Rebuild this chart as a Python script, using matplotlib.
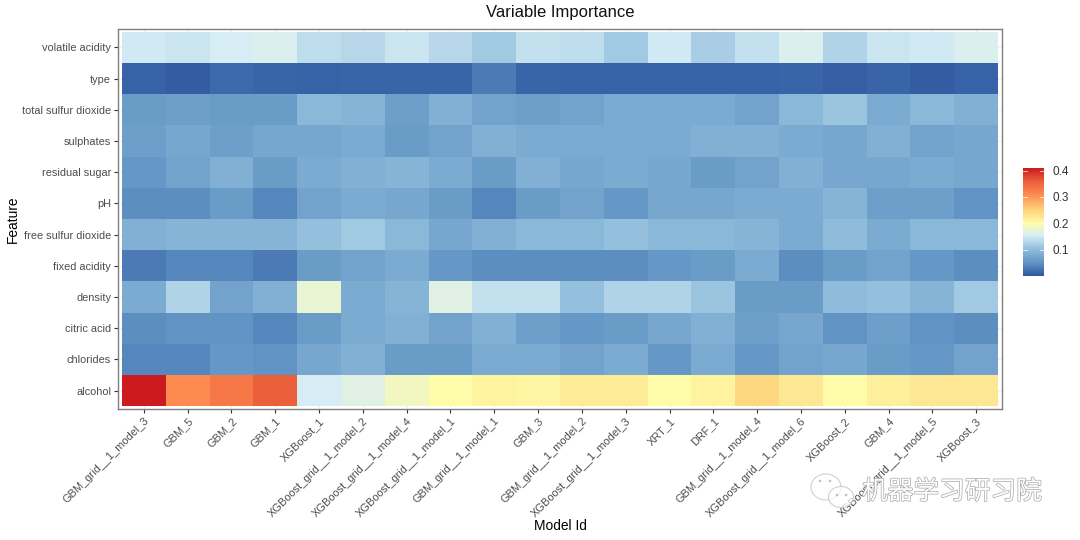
import numpy as np
import matplotlib
matplotlib.use("Agg")
import matplotlib.pyplot as plt
import matplotlib.patheffects as pe
from matplotlib.colors import LinearSegmentedColormap
from matplotlib.patches import Ellipse

plt.rcParams['font.family'] = ['Liberation Sans', 'Noto Sans CJK SC', 'DejaVu Sans']

models = ["GBM_grid__1_model_3", "GBM_5", "GBM_2", "GBM_1", "XGBoost_1",
          "XGBoost_grid__1_model_2", "XGBoost_grid__1_model_4", "XGBoost_grid__1_model_1",
          "GBM_grid__1_model_1", "GBM_3", "GBM_grid__1_model_2", "XGBoost_grid__1_model_3",
          "XRT_1", "DRF_1", "GBM_grid__1_model_4", "XGBoost_grid__1_model_6",
          "XGBoost_2", "GBM_4", "XGBoost_grid__1_model_5", "XGBoost_3"]

features = ["alcohol", "chlorides", "citric acid", "density", "fixed acidity",
            "free sulfur dioxide", "pH", "residual sugar", "sulphates",
            "total sulfur dioxide", "type", "volatile acidity"]

alcohol = [.41, .31, .33, .36, .155, .165, .185, .20, .21, .205, .22, .22, .20, .21, .245, .225, .20, .215, .225, .225]
chlorides = [.04, .04, .055, .05, .075, .085, .06, .06, .08, .08, .07, .08, .055, .08, .055, .07, .075, .06, .055, .07]
citric_acid = [.045, .05, .05, .04, .06, .08, .085, .07, .085, .065, .055, .06, .075, .085, .065, .075, .05, .065, .05, .045]
density = [.08, .125, .07, .085, .175, .08, .09, .165, .14, .14, .105, .125, .125, .11, .06, .06, .10, .105, .09, .115]
fixed_acidity = [.03, .04, .04, .03, .06, .07, .08, .055, .045, .045, .045, .045, .055, .06, .08, .045, .06, .07, .055, .045]
free_sulfur = [.085, .09, .09, .09, .105, .115, .095, .075, .085, .095, .095, .105, .095, .095, .09, .08, .10, .08, .095, .095]
ph = [.045, .045, .06, .04, .07, .08, .075, .06, .04, .06, .07, .055, .075, .075, .08, .08, .09, .065, .065, .05]
residual_sugar = [.055, .07, .085, .06, .08, .085, .09, .08, .06, .085, .075, .08, .075, .06, .07, .085, .075, .075, .08, .075]
sulphates = [.065, .075, .065, .075, .075, .08, .06, .07, .085, .08, .08, .08, .08, .085, .085, .08, .075, .085, .07, .075]
total_sulfur = [.06, .065, .06, .06, .095, .09, .065, .085, .07, .065, .07, .08, .08, .08, .07, .095, .11, .08, .095, .085]
type_ = [.01, .005, .015, .012, .01, .012, .012, .012, .03, .012, .01, .01, .01, .01, .01, .012, .008, .012, .005, .01]
volatile = [.15, .145, .155, .16, .135, .13, .145, .13, .115, .14, .135, .115, .15, .12, .14, .16, .125, .145, .15, .16]

rows = [alcohol, chlorides, citric_acid, density, fixed_acidity, free_sulfur, ph,
        residual_sugar, sulphates, total_sulfur, type_, volatile]
vals = np.array(rows)

vmin, vmax = 0.0, 0.41
stops = [(0.0, "#2E56A0"), (0.05, "#6194C4"), (0.1, "#8FBCDB"), (0.155, "#D7EEF5"),
         (0.2, "#FFFBA8"), (0.25, "#FDD47C"), (0.31, "#FD8A50"), (0.36, "#EC5F3B"), (0.41, "#CC1A1E")]
cmap = LinearSegmentedColormap.from_list("imp", [(v / vmax, c) for v, c in stops])

W, H = 1080, 540
fig = plt.figure(figsize=(W / 100, H / 100), dpi=100)
left, right, top, bottom = 118, 1002, 29, 409
ax = fig.add_axes([left / W, 1 - bottom / H, (right - left) / W, (bottom - top) / H])

x = np.arange(len(models))
y = np.arange(len(features))
ax.grid(True, color="#ebebeb", lw=0.6)
ax.set_axisbelow(True)
mesh = ax.pcolormesh(np.arange(len(models) + 1) - 0.5, np.arange(len(features) + 1) - 0.5,
                     vals, cmap=cmap, vmin=vmin, vmax=vmax, zorder=2)
ax.set_xlim(-0.59, 19.59)
ax.set_ylim(-0.59, 11.59)
ax.set_xticks(x)
ax.set_xticklabels(models, rotation=45, ha="right", rotation_mode="anchor", fontsize=7.9, color="#4d4d4d")
ax.set_yticks(y)
ax.set_yticklabels(features, fontsize=7.9, color="#4d4d4d")
ax.tick_params(length=3, width=0.8, color="#333333", pad=2)
for s in ax.spines.values():
    s.set_color("#7f7f7f")
    s.set_linewidth(1.0)
ax.set_title("Variable Importance", fontsize=12, pad=9, color="#111111")
ax.set_xlabel("Model Id", fontsize=9.9, va="center")
ax.xaxis.set_label_coords(0.5, -0.308)
ax.set_ylabel("Feature", fontsize=9.9, va="center")
ax.yaxis.set_label_coords(-0.119, 0.5)

cax = fig.add_axes([1023 / W, 1 - 276 / H, 21 / W, 108 / H])
cb = fig.colorbar(mesh, cax=cax)
cb.set_ticks([0.1, 0.2, 0.3, 0.4])
cb.set_ticklabels(["0.1", "0.2", "0.3", "0.4"])
cb.outline.set_visible(False)
cax.tick_params(length=0, labelsize=8.5, labelcolor="#333333", pad=6)
for t in [0.1, 0.2, 0.3, 0.4]:
    cax.plot([0, 0.2], [t, t], color="white", lw=0.5, transform=cax.get_yaxis_transform())
    cax.plot([0.8, 1], [t, t], color="white", lw=0.5, transform=cax.get_yaxis_transform())

# watermark
wm = fig.add_axes([0, 0, 1, 1], facecolor="none")
wm.set_xlim(0, W)
wm.set_ylim(H, 0)
wm.axis("off")
for cx, cy, w, h in [(826, 487, 30, 26), (841, 497, 25, 21)]:
    wm.add_patch(Ellipse((cx, cy), w, h, fc="white", ec="#c0c0c0", lw=0.8, alpha=0.75))
for ex, ey in [(820, 481), (830, 481), (837, 495), (846, 495)]:
    wm.add_patch(Ellipse((ex, ey), 2.5, 2.5, fc="#c0c0c0", ec="none"))
wm.text(862, 499, "机器学习研习院", fontsize=18.5, color="white", va="baseline",
        path_effects=[pe.withStroke(linewidth=1.0, foreground="#a8a8a8")])

fig.savefig("out.png", dpi=100)
